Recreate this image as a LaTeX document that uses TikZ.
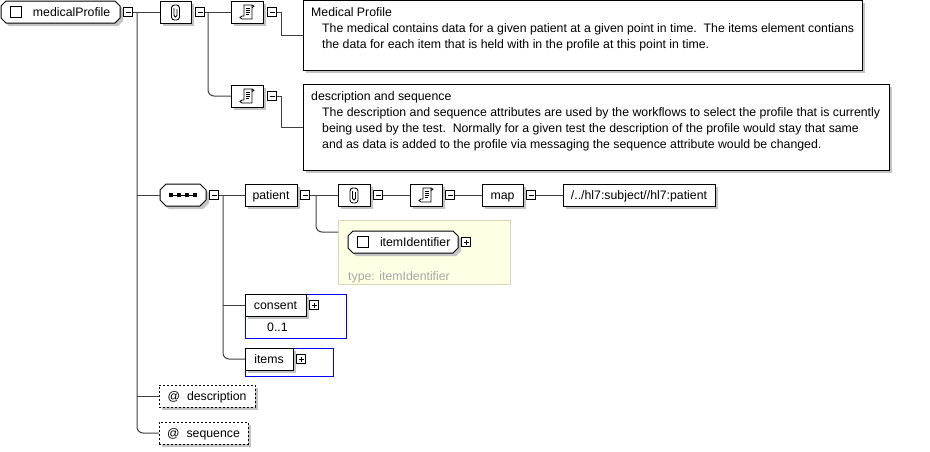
\documentclass[tikz,border=0pt]{standalone}
\usepackage{fontspec}
\setmainfont{Liberation Sans}
\usetikzlibrary{shadows,calc}
\pgfdeclarelayer{bg}
\pgfsetlayers{bg,main}
\definecolor{lnc}{HTML}{404040}
\definecolor{shd}{HTML}{C4C4C4}
\definecolor{ylwf}{HTML}{FFFFE4}
\definecolor{ylwd}{HTML}{D8D8B8}
\definecolor{typec}{HTML}{A8A8A8}
\definecolor{bluec}{HTML}{0000FF}
\newcommand\champath[2]{([xshift=#2]#1.north west) -- ([xshift=-#2]#1.north east) -- ([yshift=-#2]#1.north east) -- ([yshift=#2]#1.south east) -- ([xshift=-#2]#1.south east) -- ([xshift=#2]#1.south west) -- ([yshift=#2]#1.south west) -- ([yshift=-#2]#1.north west) -- cycle}
\tikzset{
  every node/.style={font=\fontsize{12.3}{16}\selectfont},
  nb/.style={inner sep=0pt, outer sep=0pt, text height=10pt, text depth=1.4pt, anchor=north west},
  bx/.style={nb, draw=black, fill=white, line width=1pt, minimum height=22pt,
    drop shadow={shadow xshift=3pt, shadow yshift=-3pt, fill=shd, opacity=1}},
  elem/.style={nb, minimum height=22pt, align=left},
  txt/.style={anchor=north west, inner sep=0pt, align=left},
  mbox/.style={draw=black, fill=white, line width=0.8pt, minimum size=9pt, inner sep=0pt, anchor=center,
    path picture={\draw[line width=0.8pt] ([xshift=2pt]path picture bounding box.west) -- ([xshift=-2pt]path picture bounding box.east);}},
  pbox/.style={mbox, path picture={\draw[line width=0.8pt] ([xshift=2pt]path picture bounding box.west) -- ([xshift=-2pt]path picture bounding box.east) ([yshift=-2pt]path picture bounding box.north) -- ([yshift=2pt]path picture bounding box.south);}},
  conn/.style={draw=lnc, line width=1pt},
  icon/.style={draw=black, line width=0.9pt},
  attr/.style={bx, dash pattern=on 2pt off 2pt},
  grp/.style={nb, draw=bluec, line width=1pt}
}
\begin{document}
\begin{tikzpicture}[x=1pt,y=-1pt]
\useasboundingbox (0,0) rectangle (930,451);

% top-level element
\node[elem, text width=119pt] (mp) at (1,1) {\hspace*{32pt}medicalProfile};
\node[mbox] (mpm) at (128,12) {};
\node[bx, minimum width=31pt] (ann1) at (160,1) {};
\node[mbox] (ann1m) at (200,12) {};
\node[bx, minimum width=32pt] (doc1i) at (231,1) {};
\node[mbox] (doc1m) at (272,12) {};
\node[bx, minimum width=559pt, minimum height=70pt] (doc1) at (303,0) {};
\node[txt] (doc1t) at (311,7.5) {Medical Profile\\\hspace*{11pt}The medical contains data for a given patient at a given point in time.\ \ The items element contians\\\hspace*{11pt}the data for each item that is held with in the profile at this point in time.};
\node[bx, minimum width=32pt] (doc2i) at (231,85) {};
\node[mbox] (doc2m) at (272,96) {};
\node[bx, minimum width=586pt, minimum height=86pt] (doc2) at (303,84) {};
\node[txt] (doc2t) at (311,91.5) {description and sequence\\\hspace*{11pt}The description and sequence attributes are used by the workflows to select the profile that is currently\\\hspace*{11pt}being used by the test.\ \ Normally for a given test the description of the profile would stay that same\\\hspace*{11pt}and as data is added to the profile via messaging the sequence attribute would be changed.};

% sequence row
\node[elem, minimum width=46pt] (seqc) at (160,184) {};
\node[mbox] (seqcm) at (214,195) {};
\node[bx, minimum width=52pt] (patient) at (245,184) {patient};
\node[mbox] (patm) at (305,195) {};
\node[bx, minimum width=32pt] (ann2) at (338,184) {};
\node[mbox] (ann2m) at (378,195) {};
\node[bx, minimum width=32pt] (doc3i) at (410,184) {};
\node[mbox] (doc3m) at (450,195) {};
\node[bx, minimum width=41pt] (map) at (482,184) {map};
\node[mbox] (mapm) at (531,195) {};
\node[bx, minimum width=152pt] (xpath) at (563,184) {/../hl7:subject//hl7:patient};

% itemIdentifier (type box)
\begin{pgfonlayer}{bg}
\node[nb, draw=ylwd, fill=ylwf, line width=1pt, minimum width=172pt, minimum height=64pt] (ylw) at (338,220) {};
\end{pgfonlayer}
\node[elem, text width=110pt] (itemid) at (348,231) {\hspace*{32pt}itemIdentifier};
\node[pbox] (itemidp) at (466,242) {};
\node[anchor=base west, inner sep=0pt, text=typec] (ylwt) at (348,280) {type: itemIdentifier};

% consent
\node[grp, minimum width=101pt, minimum height=44pt] (consentg) at (245,294) {};
\node[bx, minimum width=61pt] (consent) at (245,294) {consent};
\node[pbox] (consentp) at (314,305) {};
\node[anchor=base west, inner sep=0pt] (cmult) at (267,331) {0..1};

% items
\node[grp, minimum width=88pt, minimum height=28pt] (itemsg) at (245,348) {};
\node[bx, minimum width=48pt] (items) at (245,348) {items};
\node[pbox] (itemsp) at (301,359) {};

% attributes
\node[attr, minimum width=96pt] (descr) at (159,385) {@\hspace{7pt}description};
\node[attr, minimum width=89pt] (seqattr) at (159,422) {@\hspace{7pt}sequence};

% chamfered element outlines
\begin{pgfonlayer}{bg}
\foreach \n/\c in {mp/5,itemid/5,seqc/6} {
  \fill[shd, transform canvas={xshift=3pt,yshift=-3pt}] \champath{\n}{\c pt};
  \draw[line width=1pt, fill=white] \champath{\n}{\c pt};
}
\end{pgfonlayer}

% checkboxes
\draw[line width=1pt] ([xshift=9.5pt,yshift=5.5pt]mp.west) rectangle ++(11,11);
\draw[line width=1pt] ([xshift=9.5pt,yshift=5.5pt]itemid.west) rectangle ++(11,11);

% compositor icon
\draw[icon] ([xshift=-13pt]seqc.center) -- ([xshift=13pt]seqc.center);
\foreach \d in {-12,-4,4,12}
  \fill ([xshift=\d pt]seqc.center) +(-1.8,-1.8) rectangle +(1.8,1.8);

% paperclip icons
\foreach \n in {ann1,ann2} {
  \draw[icon, rounded corners=3pt, shift={(\n.center)}] (-4,-7) rectangle (4,8);
  \draw[icon, rounded corners=1.5pt, shift={(\n.center)}] (-1.5,-4) -- (-1.5,5) -- (1.5,5) -- (1.5,-3);
}
% scroll icons
\foreach \n in {doc1i,doc2i,doc3i} {
  \begin{scope}[shift={(\n.center)}]
  \draw[icon] (-3,4) -- (-3,-7) -- (5,-7) .. controls (7.5,-7) and (7.5,-4.5) .. (5,-4.5);
  \draw[icon] (5,-7) -- (5,7) -- (-5,7) .. controls (-7.5,7) and (-7.5,4) .. (-5,4) -- (-3,4);
  \draw[icon, line width=0.8pt] (-1,-4) -- (3,-4) (-1,-2) -- (3,-2) (-1,0) -- (3,0) (-1,2) -- (2,2);
  \end{scope}
}

% junctions
\coordinate (j1) at (137,12);
\coordinate (j2) at (208,12);
\coordinate (j3) at (223,195);
\coordinate (j4) at (316,195);
\coordinate (ylwin) at ([yshift=-12pt]ylw.north west);

% connectors
\draw[conn] (mpm.east) -- (ann1.west);
\draw[conn] (j1 |- seqc.west) -- (seqc.west);
\draw[conn] (j1 |- descr.west) -- (descr.west);
\draw[conn, rounded corners=6pt] (j1) |- (seqattr.west);

\draw[conn] (ann1m.east) -- (doc1i.west);
\draw[conn, rounded corners=6pt] (j2) |- (doc2i.west);
\draw[conn] (doc1m.east) -- ++(5,0) |- (doc1.west);
\draw[conn] (doc2m.east) -- ++(5,0) |- (doc2.west);

\draw[conn] (seqcm.east) -- (patient.west);
\draw[conn] (j3 |- consent.west) -- (consent.west);
\draw[conn, rounded corners=6pt] (j3) |- (items.west);

\draw[conn] (patm.east) -- (ann2.west);
\draw[conn, rounded corners=6pt] (j4) |- (ylwin);
\draw[conn] (ann2m.east) -- (doc3i.west);
\draw[conn] (doc3m.east) -- (map.west);
\draw[conn] (mapm.east) -- (xpath.west);
\end{tikzpicture}
\end{document}
